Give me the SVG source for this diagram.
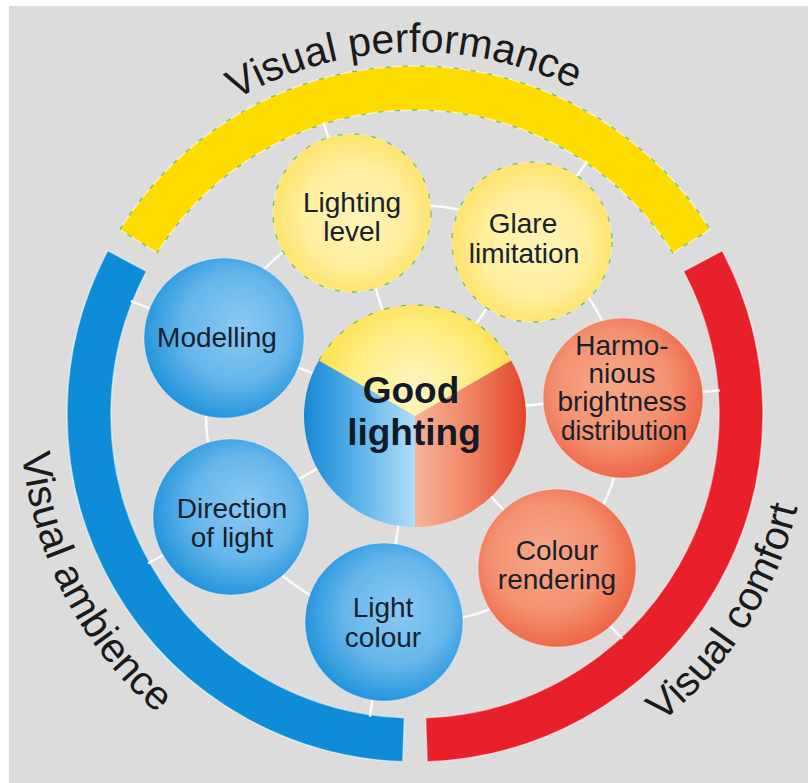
<svg xmlns="http://www.w3.org/2000/svg" width="808" height="783" viewBox="0 0 808 783">
  <style>
    .lbl { font-family: "Liberation Sans", Arial, Helvetica, sans-serif; fill: #1a1a1a; }
    .ring-lbl { font-size: 41px; }
    .node-lbl { font-size: 28px; text-anchor: middle; fill: #18202e; }
    .hub-lbl { font-size: 37px; font-weight: bold; text-anchor: middle; fill: #111a26; }
    .band { stroke: #ffffff; stroke-opacity: 0.55; stroke-width: 1.5; }
    .node { stroke: #ffffff; stroke-opacity: 0.35; stroke-width: 1; }
    .fleck { fill: none; stroke: #3dae3a; stroke-width: 1.3; stroke-dasharray: 5 12; stroke-opacity: 0.7; }
    .link { fill: none; stroke: #ffffff; stroke-opacity: 0.85; stroke-width: 2.5; }
  </style>
  <defs>
    <radialGradient id="gYellow" cx="50%" cy="50%" r="55%" fx="55%" fy="55%">
      <stop offset="0" stop-color="#fff4b8"/>
      <stop offset="0.6" stop-color="#ffee9c"/>
      <stop offset="1" stop-color="#ffe160"/>
    </radialGradient>
    <radialGradient id="gBlue" cx="55%" cy="45%" r="60%" fx="62%" fy="42%">
      <stop offset="0" stop-color="#8ac9f1"/>
      <stop offset="0.55" stop-color="#66b7eb"/>
      <stop offset="1" stop-color="#1b8fda"/>
    </radialGradient>
    <radialGradient id="gRed" cx="45%" cy="45%" r="60%" fx="42%" fy="40%">
      <stop offset="0" stop-color="#f6a888"/>
      <stop offset="0.6" stop-color="#f3906f"/>
      <stop offset="1" stop-color="#ec5f3e"/>
    </radialGradient>
    <radialGradient id="hubYellow" cx="415" cy="390" r="110" gradientUnits="userSpaceOnUse">
      <stop offset="0" stop-color="#fff6c4"/>
      <stop offset="0.6" stop-color="#ffec80"/>
      <stop offset="1" stop-color="#ffdc3a"/>
    </radialGradient>
    <linearGradient id="hubBlue" x1="304" y1="0" x2="415" y2="0" gradientUnits="userSpaceOnUse">
      <stop offset="0" stop-color="#1588d6"/>
      <stop offset="0.5" stop-color="#5cb3ea"/>
      <stop offset="1" stop-color="#b2def8"/>
    </linearGradient>
    <linearGradient id="hubRed" x1="415" y1="0" x2="526" y2="0" gradientUnits="userSpaceOnUse">
      <stop offset="0" stop-color="#f7b498"/>
      <stop offset="0.5" stop-color="#f08464"/>
      <stop offset="1" stop-color="#e4432a"/>
    </linearGradient>
    <path id="arcTop" d="M 101.5 233 A 362 362 0 0 1 728.5 233"/>
    <path id="arcLeft" d="M 26 345.41 A 395 395 0 0 0 279.9 785.18"/>
    <path id="arcRight" d="M 550.1 785.18 A 393 393 0 0 0 802 346"/>
  </defs>

  <!-- backdrop -->
  <rect width="808" height="783" fill="#ffffff"/>
  <rect x="9" y="6" width="799" height="777" fill="#dcdcdc"/>

  <!-- outer category bands -->
  <g id="band-performance">
    <path class="band" fill="#ffdc00" d="M 119.88 229.59 A 348 348 0 0 1 710.12 229.59 L 672.81 252.90 A 304 304 0 0 0 157.19 252.90 Z"/>
    <path class="fleck" d="M 119.88 229.59 A 348 348 0 0 1 710.12 229.59 L 672.81 252.90 A 304 304 0 0 0 157.19 252.90 Z"/>
    <text class="lbl ring-lbl"><textPath href="#arcTop" startOffset="48.5%" text-anchor="middle">Visual performance</textPath></text>
  </g>
  <g id="band-ambience">
    <path class="band" fill="#0e8cd7" d="M 107.73 250.62 A 348 348 0 0 0 402.86 761.79 L 404.39 717.81 A 304 304 0 0 1 146.58 271.28 Z"/>
    <text class="lbl ring-lbl"><textPath href="#arcLeft" startOffset="46.9%" text-anchor="middle">Visual ambience</textPath></text>
  </g>
  <g id="band-comfort">
    <path class="band" fill="#e8202a" d="M 427.14 761.79 A 348 348 0 0 0 722.27 250.62 L 683.42 271.28 A 304 304 0 0 1 425.61 717.81 Z"/>
    <text class="lbl ring-lbl"><textPath href="#arcRight" startOffset="46.9%" text-anchor="middle">Visual comfort</textPath></text>
  </g>

  <!-- connectors: ring through the nodes and radial spokes -->
  <g id="connectors">
    <circle class="link" cx="415" cy="414" r="209"/>
    <line class="link" x1="385.1" y1="318.6" x2="323.5" y2="122.0"/>
    <line class="link" x1="471.2" y1="331.3" x2="587.1" y2="161.0"/>
    <line class="link" x1="514.7" y1="406.3" x2="720.1" y2="390.5"/>
    <line class="link" x1="482.8" y1="487.5" x2="622.4" y2="639.0"/>
    <line class="link" x1="400.3" y1="512.9" x2="369.9" y2="716.7"/>
    <line class="link" x1="327.7" y1="462.8" x2="148.0" y2="563.5"/>
    <line class="link" x1="322.1" y1="377.0" x2="130.7" y2="300.9"/>
  </g>

  <!-- hub -->
  <g id="hub">
    <path fill="url(#hubYellow)" d="M 415 416 L 318.87 360.5 A 111 111 0 0 1 511.13 360.5 Z"/>
    <path class="fleck" d="M 318.87 360.5 A 111 111 0 0 1 511.13 360.5"/>
    <path fill="url(#hubBlue)" d="M 415 416 L 318.87 360.5 A 111 111 0 0 0 415 527 Z"/>
    <path fill="url(#hubRed)" d="M 415 416 L 415 527 A 111 111 0 0 0 511.13 360.5 Z"/>
    <text class="lbl hub-lbl" x="411" y="403">Good</text>
    <text class="lbl hub-lbl" x="414" y="445">lighting</text>
  </g>

  <!-- performance nodes -->
  <g id="node-lighting-level">
    <circle class="node" cx="352" cy="213" r="79" fill="url(#gYellow)"/>
    <circle class="fleck" cx="352" cy="213" r="79"/>
    <text class="lbl node-lbl" x="352" y="212">Lighting</text>
    <text class="lbl node-lbl" x="352" y="241">level</text>
  </g>
  <g id="node-glare-limitation">
    <circle class="node" cx="532" cy="242" r="80" fill="url(#gYellow)"/>
    <circle class="fleck" cx="532" cy="242" r="80"/>
    <text class="lbl node-lbl" x="523" y="233">Glare</text>
    <text class="lbl node-lbl" x="524" y="263">limitation</text>
  </g>

  <!-- comfort nodes -->
  <g id="node-brightness-distribution">
    <circle class="node" cx="623" cy="398" r="80" fill="url(#gRed)"/>
    <text class="lbl node-lbl" x="622" y="355">Harmo-</text>
    <text class="lbl node-lbl" x="622" y="383">nious</text>
    <text class="lbl node-lbl" x="622" y="411">brightness</text>
    <text class="lbl node-lbl" x="624" y="440" textLength="126" lengthAdjust="spacingAndGlyphs">distribution</text>
  </g>
  <g id="node-colour-rendering">
    <circle class="node" cx="557" cy="568" r="79" fill="url(#gRed)"/>
    <text class="lbl node-lbl" x="557" y="560">Colour</text>
    <text class="lbl node-lbl" x="557" y="589">rendering</text>
  </g>

  <!-- ambience nodes -->
  <g id="node-light-colour">
    <circle class="node" cx="384" cy="622" r="79" fill="url(#gBlue)"/>
    <text class="lbl node-lbl" x="383" y="617">Light</text>
    <text class="lbl node-lbl" x="383" y="647">colour</text>
  </g>
  <g id="node-direction-of-light">
    <circle class="node" cx="231" cy="517" r="78" fill="url(#gBlue)"/>
    <text class="lbl node-lbl" x="232" y="518">Direction</text>
    <text class="lbl node-lbl" x="232" y="547">of light</text>
  </g>
  <g id="node-modelling">
    <circle class="node" cx="224" cy="338" r="80" fill="url(#gBlue)"/>
    <text class="lbl node-lbl" x="217" y="347">Modelling</text>
  </g>
</svg>
